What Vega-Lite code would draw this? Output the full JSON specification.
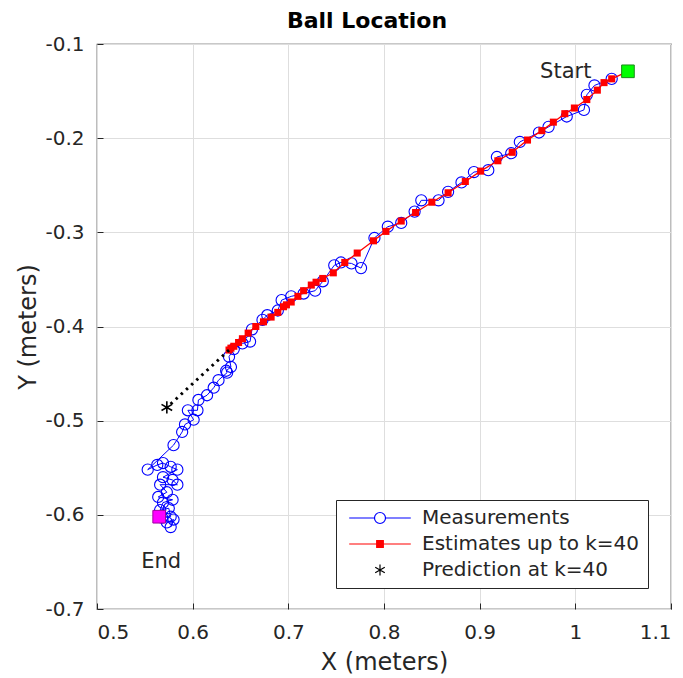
{
  "$schema": "https://vega.github.io/schema/vega-lite/v6.json",
  "width": 574,
  "height": 565,
  "autosize": {"type": "none"},
  "padding": {"left": 97, "top": 44, "right": 12, "bottom": 69},
  "background": "white",
  "title": {"text": "Ball Location", "fontSize": 22, "fontWeight": "bold", "font": "DejaVu Sans", "color": "#000000", "offset": 1, "dx": -17},
  "config": {
    "font": "DejaVu Sans",
    "view": {"stroke": "#262626", "strokeWidth": 1.2},
    "axis": {"domain": false, "gridColor": "#dedede", "gridWidth": 1, "tickColor": "#262626", "tickSize": -6, "labelColor": "#262626", "labelFontSize": 20, "titleColor": "#262626", "titleFontSize": 24, "titleFontWeight": "normal"},
    "legend": {"symbolOpacity": 1}
  },
  "datasets": {
    "meas": [
      {"k":1,"x":1.038,"y":-0.137},{"k":2,"x":1.020,"y":-0.144},{"k":3,"x":1.012,"y":-0.154},{"k":4,"x":1.009,"y":-0.170},
      {"k":5,"x":0.991,"y":-0.177},{"k":6,"x":0.972,"y":-0.188},{"k":7,"x":0.962,"y":-0.194},{"k":8,"x":0.942,"y":-0.204},
      {"k":9,"x":0.933,"y":-0.216},{"k":10,"x":0.918,"y":-0.220},{"k":11,"x":0.909,"y":-0.234},{"k":12,"x":0.894,"y":-0.236},
      {"k":13,"x":0.881,"y":-0.247},{"k":14,"x":0.867,"y":-0.257},{"k":15,"x":0.857,"y":-0.266},{"k":16,"x":0.839,"y":-0.266},
      {"k":17,"x":0.832,"y":-0.278},{"k":18,"x":0.818,"y":-0.290},{"k":19,"x":0.804,"y":-0.294},{"k":20,"x":0.790,"y":-0.306},
      {"k":21,"x":0.776,"y":-0.338},{"k":22,"x":0.766,"y":-0.333},{"k":23,"x":0.755,"y":-0.332},{"k":24,"x":0.748,"y":-0.335},
      {"k":25,"x":0.736,"y":-0.352},{"k":26,"x":0.728,"y":-0.362},{"k":27,"x":0.716,"y":-0.365},{"k":28,"x":0.703,"y":-0.368},
      {"k":29,"x":0.693,"y":-0.372},{"k":30,"x":0.689,"y":-0.383},{"k":31,"x":0.678,"y":-0.388},{"k":32,"x":0.673,"y":-0.393},
      {"k":33,"x":0.662,"y":-0.403},{"k":34,"x":0.660,"y":-0.416},{"k":35,"x":0.652,"y":-0.418},{"k":36,"x":0.643,"y":-0.424},
      {"k":37,"x":0.638,"y":-0.432},{"k":38,"x":0.640,"y":-0.443},{"k":39,"x":0.635,"y":-0.447},{"k":40,"x":0.636,"y":-0.449},
      {"k":41,"x":0.627,"y":-0.457},{"k":42,"x":0.622,"y":-0.465},{"k":43,"x":0.615,"y":-0.473},{"k":44,"x":0.606,"y":-0.478},
      {"k":45,"x":0.605,"y":-0.489},{"k":46,"x":0.595,"y":-0.489},{"k":47,"x":0.601,"y":-0.499},{"k":48,"x":0.592,"y":-0.504},
      {"k":49,"x":0.589,"y":-0.512},{"k":50,"x":0.580,"y":-0.526},{"k":51,"x":0.553,"y":-0.552},{"k":52,"x":0.563,"y":-0.547},
      {"k":53,"x":0.569,"y":-0.545},{"k":54,"x":0.577,"y":-0.549},{"k":55,"x":0.584,"y":-0.552},{"k":56,"x":0.569,"y":-0.560},
      {"k":57,"x":0.579,"y":-0.563},{"k":58,"x":0.584,"y":-0.568},{"k":59,"x":0.566,"y":-0.568},{"k":60,"x":0.573,"y":-0.576},
      {"k":61,"x":0.564,"y":-0.581},{"k":62,"x":0.579,"y":-0.584},{"k":63,"x":0.569,"y":-0.587},{"k":64,"x":0.566,"y":-0.595},
      {"k":65,"x":0.575,"y":-0.593},{"k":66,"x":0.577,"y":-0.602},{"k":67,"x":0.568,"y":-0.603},{"k":68,"x":0.573,"y":-0.608},
      {"k":69,"x":0.580,"y":-0.605},{"k":70,"x":0.577,"y":-0.613}
    ],
    "est": [
      {"k":0,"x":1.055,"y":-0.129},
      {"k":1,"x":1.038,"y":-0.137},{"k":2,"x":1.030,"y":-0.141},{"k":3,"x":1.023,"y":-0.149},{"k":4,"x":1.012,"y":-0.159},
      {"k":5,"x":0.999,"y":-0.168},{"k":6,"x":0.989,"y":-0.174},{"k":7,"x":0.977,"y":-0.183},{"k":8,"x":0.965,"y":-0.192},
      {"k":9,"x":0.950,"y":-0.202},{"k":10,"x":0.934,"y":-0.215},{"k":11,"x":0.919,"y":-0.224},{"k":12,"x":0.901,"y":-0.235},
      {"k":13,"x":0.885,"y":-0.246},{"k":14,"x":0.867,"y":-0.258},{"k":15,"x":0.850,"y":-0.268},{"k":16,"x":0.833,"y":-0.279},
      {"k":17,"x":0.818,"y":-0.288},{"k":18,"x":0.802,"y":-0.299},{"k":19,"x":0.789,"y":-0.309},{"k":20,"x":0.772,"y":-0.322},
      {"k":21,"x":0.759,"y":-0.332},{"k":22,"x":0.747,"y":-0.343},{"k":23,"x":0.736,"y":-0.349},{"k":24,"x":0.729,"y":-0.353},
      {"k":25,"x":0.724,"y":-0.356},{"k":26,"x":0.716,"y":-0.362},{"k":27,"x":0.710,"y":-0.368},{"k":28,"x":0.703,"y":-0.374},
      {"k":29,"x":0.698,"y":-0.377},{"k":30,"x":0.695,"y":-0.379},{"k":31,"x":0.689,"y":-0.385},{"k":32,"x":0.682,"y":-0.390},
      {"k":33,"x":0.674,"y":-0.395},{"k":34,"x":0.666,"y":-0.400},{"k":35,"x":0.658,"y":-0.407},{"k":36,"x":0.652,"y":-0.413},
      {"k":37,"x":0.648,"y":-0.417},{"k":38,"x":0.643,"y":-0.421},{"k":39,"x":0.640,"y":-0.423},{"k":40,"x":0.638,"y":-0.425}
    ],
    "pred": [
      {"k":40,"x":0.638,"y":-0.425},{"k":41,"x":0.573,"y":-0.486}
    ],
    "ends": [
      {"name":"Start","x":1.055,"y":-0.129},{"name":"End","x":0.565,"y":-0.602}
    ],
    "labels": [
      {"text":"Start","x":0.990,"y":-0.130},{"text":"End","x":0.567,"y":-0.650}
    ],
    "legendrow": [
      {"series":"Measurements","x":0.553,"y":-0.552}
    ]
  },
  "encoding": {
    "x": {"field": "x", "type": "quantitative", "title": "X (meters)",
      "scale": {"domain": [0.5, 1.1], "nice": false, "zero": false},
      "axis": {"values": [0.5, 0.6, 0.7, 0.8, 0.9, 1, 1.1], "labelExpr": "'' + datum.value", "labelPadding": 19, "titlePadding": 8}},
    "y": {"field": "y", "type": "quantitative", "title": "Y (meters)",
      "scale": {"domain": [-0.7, -0.1], "nice": false, "zero": false},
      "axis": {"values": [-0.7, -0.6, -0.5, -0.4, -0.3, -0.2, -0.1], "labelExpr": "'' + datum.value", "labelPadding": 19, "titlePadding": 4}}
  },
  "layer": [
    {"data": {"name": "meas"}, "mark": {"type": "line", "color": "#0000ff", "strokeWidth": 1}, "encoding": {"order": {"field": "k", "type": "quantitative"}}},
    {"data": {"name": "meas"}, "mark": {"type": "point", "shape": "circle", "filled": false, "color": "#0000ff", "size": 125, "strokeWidth": 1.1, "opacity": 1}},
    {"data": {"name": "est"}, "mark": {"type": "line", "color": "#ff0000", "strokeWidth": 1.3}, "encoding": {"order": {"field": "k", "type": "quantitative"}}},
    {"data": {"name": "est"}, "mark": {"type": "square", "color": "#ff0000", "size": 50, "opacity": 1}},
    {"data": {"name": "pred"}, "mark": {"type": "line", "color": "#000000", "strokeWidth": 3, "strokeDash": [2.5, 4.5]}, "encoding": {"order": {"field": "k", "type": "quantitative"}}},
    {"data": {"name": "pred"}, "transform": [{"filter": "datum.k == 41"}], "mark": {"type": "point", "shape": "M0,-1L0,1M-0.87,-0.5L0.87,0.5M-0.87,0.5L0.87,-0.5", "filled": false, "color": "#000000", "size": 150, "strokeWidth": 1.6, "opacity": 1}},
    {"data": {"name": "ends"}, "transform": [{"filter": "datum.name == 'Start'"}], "mark": {"type": "square", "size": 160, "opacity": 1, "strokeWidth": 1, "fill": "#00ff00", "stroke": "#1a8a1a"}},
    {"data": {"name": "ends"}, "transform": [{"filter": "datum.name == 'End'"}], "mark": {"type": "square", "size": 160, "opacity": 1, "strokeWidth": 1, "fill": "#ff00ff", "stroke": "#a000a0"}},
    {"data": {"name": "labels"}, "mark": {"type": "text", "fontSize": 21, "color": "#262626", "align": "center", "baseline": "middle"}, "encoding": {"text": {"field": "text"}}},
    {"data": {"name": "legendrow"}, "mark": {"type": "point", "size": 0, "strokeWidth": 1.2},
      "encoding": {
        "fill": {"field": "series", "type": "nominal",
          "scale": {"domain": ["Measurements", "Estimates up to k=40", "Prediction at k=40"], "range": ["transparent", "#ff0000", "transparent"]},
          "legend": {"title": null, "orient": "none", "legendX": 239, "legendY": 456, "direction": "vertical",
            "strokeColor": "#262626", "fillColor": "#ffffff", "padding": 8, "labelFontSize": 20, "labelColor": "#262626",
            "symbolSize": 121, "symbolStrokeWidth": 1.2, "symbolOpacity": 1, "symbolOffset": 26, "labelOffset": 32, "rowPadding": 6, "labelLimit": 400}},
        "stroke": {"field": "series", "type": "nominal",
          "scale": {"domain": ["Measurements", "Estimates up to k=40", "Prediction at k=40"], "range": ["#0000ff", "#ff0000", "#000000"]},
          "legend": {"title": null, "orient": "none", "legendX": 239, "legendY": 456, "direction": "vertical",
            "strokeColor": "#262626", "fillColor": "#ffffff", "padding": 8, "labelFontSize": 20, "labelColor": "#262626",
            "symbolSize": 121, "symbolStrokeWidth": 1.2, "symbolOpacity": 1, "symbolOffset": 26, "labelOffset": 32, "rowPadding": 6, "labelLimit": 400}},
        "shape": {"field": "series", "type": "nominal",
          "scale": {"domain": ["Measurements", "Estimates up to k=40", "Prediction at k=40"],
            "range": ["M-5.6,0L-1,0M1,0L5.6,0M-1,0A1,1 0 1,0 1,0A1,1 0 1,0 -1,0", "M-5.6,0L5.6,0M-0.6,-0.6L0.6,-0.6L0.6,0.6L-0.6,0.6Z", "M0,-1L0,1M-0.87,-0.5L0.87,0.5M-0.87,0.5L0.87,-0.5"]},
          "legend": {"title": null, "orient": "none", "legendX": 239, "legendY": 456, "direction": "vertical",
            "strokeColor": "#262626", "fillColor": "#ffffff", "padding": 8, "labelFontSize": 20, "labelColor": "#262626",
            "symbolSize": 121, "symbolStrokeWidth": 1.2, "symbolOpacity": 1, "symbolOffset": 26, "labelOffset": 32, "rowPadding": 6, "labelLimit": 400}}
      }}
  ]
}
